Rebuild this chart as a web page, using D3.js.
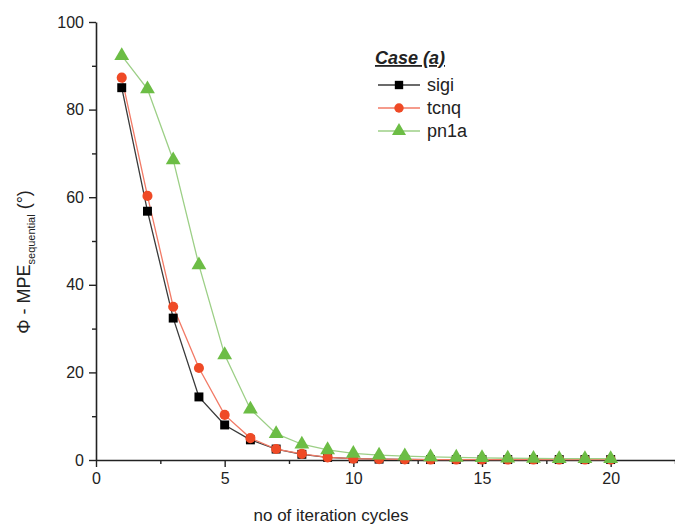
<!DOCTYPE html>
<html>
<head>
<meta charset="utf-8">
<script src="https://cdn.jsdelivr.net/npm/d3@7"></script>
<style>
  body { margin: 0; background: #fff; }
  svg { font-family: "Liberation Sans", Arial, sans-serif; }
</style>
</head>
<body>
<svg width="675" height="525"></svg>
<script>
// iteration cycles
const cycles = [1, 2, 3, 4, 5, 6, 7, 8, 9, 10, 11, 12, 13, 14, 15, 16, 17, 18, 19, 20];
const sigi = [85, 56.8, 32.4, 14.4, 8.0, 4.6, 2.5, 1.3, 0.6, 0.3, 0.2, 0.15, 0.1, 0.1, 0.1, 0.1, 0.1, 0.1, 0.1, 0.1];
const tcnq = [87.3, 60.3, 35, 21, 10.3, 5, 2.5, 1.4, 0.6, 0.3, 0.2, 0.15, 0.1, 0.1, 0.1, 0.1, 0.1, 0.1, 0.1, 0.1];
const pn1a = [92.3, 84.7, 68.5, 44.5, 24, 11.6, 6.0, 3.6, 2.3, 1.5, 1.1, 0.9, 0.7, 0.6, 0.5, 0.4, 0.35, 0.3, 0.3, 0.3];
const yTicks = [0, 20, 40, 60, 80, 100];
const xTicks = [0, 5, 10, 15, 20];

const series = [
  {name: 'sigi', values: sigi, line: '#3a3a3a', fill: '#000', shape: d3.symbolSquare},
  {name: 'tcnq', values: tcnq, line: '#f27a66', fill: '#ef4a26', shape: d3.symbolCircle},
  {name: 'pn1a', values: pn1a, line: '#9ccf86', fill: '#6cbd45', shape: d3.symbolTriangle}
];

const svg = d3.select('svg');
const x = d3.scaleLinear().domain([0, 22.5]).range([96, 675]);
const y = d3.scaleLinear().domain([0, 100]).range([460, 22]);

// axes
svg.append('g').attr('transform', `translate(0,${y(0)})`)
  .call(d3.axisBottom(x).tickValues(xTicks).tickSize(7).tickPadding(6).tickSizeOuter(0));
svg.append('g').attr('transform', `translate(0,${y(0)})`)
  .call(d3.axisBottom(x).tickValues([2.5, 7.5, 12.5, 17.5, 22.5]).tickSize(4).tickFormat('').tickSizeOuter(0))
  .select('.domain').remove();
svg.append('g').attr('transform', `translate(${x(0)},0)`)
  .call(d3.axisLeft(y).tickValues(yTicks).tickSize(7).tickPadding(5).tickSizeOuter(0));
svg.append('g').attr('transform', `translate(${x(0)},0)`)
  .call(d3.axisLeft(y).tickValues([10, 30, 50, 70, 90]).tickSize(4).tickFormat('').tickSizeOuter(0))
  .select('.domain').remove();

svg.selectAll('.domain').attr('stroke', '#222').attr('stroke-width', 1.6);
svg.selectAll('.tick line').attr('stroke', '#222').attr('stroke-width', 1.4);
svg.selectAll('.tick text').attr('font-size', 16).attr('fill', '#222').style('font-family', '"Liberation Sans", Arial, sans-serif');

// lines and markers (sigi at the back, pn1a on top)
const line = d3.line().x((d, i) => x(cycles[i])).y(d => y(d));
series.forEach(s => {
  svg.append('path').datum(s.values)
    .attr('d', line).attr('fill', 'none')
    .attr('stroke', s.line).attr('stroke-width', 1.3);
});
series.forEach(s => {
  svg.append('g').selectAll('path').data(s.values).enter().append('path')
    .attr('transform', (d, i) => `translate(${x(cycles[i])},${y(d)})`)
    .attr('d', d3.symbol().type(s.shape).size(s.shape === d3.symbolTriangle ? 95 : 80))
    .attr('fill', s.fill);
});

// legend
const lg = svg.append('g');
lg.append('text').attr('x', 410).attr('y', 64).attr('text-anchor', 'middle')
  .attr('font-size', 18).attr('font-weight', 'bold').attr('font-style', 'italic')
  .attr('text-decoration', 'underline').attr('fill', '#222').text('Case (a)');
series.forEach((s, i) => {
  const ly = 85 + i * 23;
  lg.append('line').attr('x1', 378).attr('x2', 420).attr('y1', ly).attr('y2', ly)
    .attr('stroke', s.line).attr('stroke-width', 1.3);
  lg.append('path').attr('transform', `translate(399,${ly})`)
    .attr('d', d3.symbol().type(s.shape).size(s.shape === d3.symbolTriangle ? 85 : 70))
    .attr('fill', s.fill);
  lg.append('text').attr('x', 427).attr('y', ly + 6).attr('font-size', 18)
    .attr('fill', '#222').text(s.name);
});

// axis titles
svg.append('text').attr('x', 331).attr('y', 521).attr('text-anchor', 'middle')
  .attr('font-size', 17).attr('fill', '#222').text('no of iteration cycles');

const yt = svg.append('text').attr('transform', 'translate(30,262) rotate(-90)')
  .attr('text-anchor', 'middle').attr('font-size', 18).attr('fill', '#222');
yt.append('tspan').text('\u03A6 - MPE');
yt.append('tspan').attr('font-size', 11).attr('dy', 5).text('sequential');
yt.append('tspan').attr('dy', -5).text(' (\u00B0)');
</script>
</body>
</html>
